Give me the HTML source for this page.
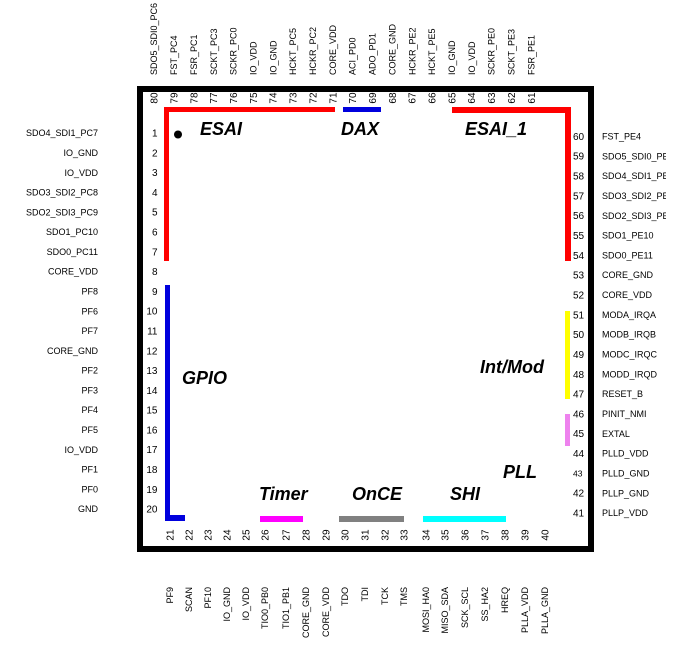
<!DOCTYPE html>
<html>
<head>
<meta charset="utf-8">
<style>
html,body{margin:0;padding:0;background:#fff;}
svg{display:block;}
text{font-family:"Liberation Sans",Arial,sans-serif;fill:#000;}
.lb{font-size:9px;}
.nm{font-size:10px;}
.bg{font-size:18px;font-weight:bold;font-style:italic;}
</style>
</head>
<body>
<svg width="695" height="651" viewBox="0 0 695 651" xmlns="http://www.w3.org/2000/svg">
<rect x="0" y="0" width="695" height="651" fill="#fff"/>
<defs><clipPath id="rc"><rect x="595" y="0" width="71" height="651"/></clipPath></defs>

<!-- chip box -->
<rect x="140" y="89" width="451" height="460" fill="none" stroke="#000" stroke-width="6"/>

<!-- colored bars -->
<rect x="164" y="107" width="5" height="154" fill="#ff0000"/>
<rect x="164" y="107" width="171" height="5" fill="#ff0000"/>
<rect x="343" y="107" width="38" height="5" fill="#0000dd"/>
<rect x="452" y="107" width="119" height="6" fill="#ff0000"/>
<rect x="565" y="107" width="6" height="154" fill="#ff0000"/>
<rect x="165" y="285" width="5" height="236" fill="#0000dd"/>
<rect x="165" y="515" width="20" height="6" fill="#0000dd"/>
<rect x="260" y="516" width="43" height="6" fill="#ff00ff"/>
<rect x="339" y="516" width="65" height="6" fill="#808080"/>
<rect x="423" y="516" width="83" height="6" fill="#00ffff"/>
<rect x="565" y="311" width="5" height="88" fill="#ffff00"/>
<rect x="565" y="414" width="5" height="32" fill="#ee82ee"/>
<circle cx="178" cy="134.5" r="4" fill="#000"/>

<!-- group labels -->
<text class="bg" x="200" y="135">ESAI</text>
<text class="bg" x="341" y="135">DAX</text>
<text class="bg" x="465" y="135">ESAI_1</text>
<text class="bg" x="182" y="384">GPIO</text>
<text class="bg" x="480" y="373">Int/Mod</text>
<text class="bg" x="503" y="478">PLL</text>
<text class="bg" x="450" y="500">SHI</text>
<text class="bg" x="259" y="500">Timer</text>
<text class="bg" x="352" y="500">OnCE</text>

<!-- left side labels (1-20) -->
<g class="lb" text-anchor="end">
<text x="98" y="136.2">SDO4_SDI1_PC7</text>
<text x="98" y="156">IO_GND</text>
<text x="98" y="175.8">IO_VDD</text>
<text x="98" y="195.6">SDO3_SDI2_PC8</text>
<text x="98" y="215.3">SDO2_SDI3_PC9</text>
<text x="98" y="235.1">SDO1_PC10</text>
<text x="98" y="254.9">SDO0_PC11</text>
<text x="98" y="274.7">CORE_VDD</text>
<text x="98" y="294.5">PF8</text>
<text x="98" y="314.3">PF6</text>
<text x="98" y="334.1">PF7</text>
<text x="98" y="353.9">CORE_GND</text>
<text x="98" y="373.6">PF2</text>
<text x="98" y="393.4">PF3</text>
<text x="98" y="413.2">PF4</text>
<text x="98" y="433">PF5</text>
<text x="98" y="452.8">IO_VDD</text>
<text x="98" y="472.6">PF1</text>
<text x="98" y="492.4">PF0</text>
<text x="98" y="512.2">GND</text>
</g>
<g class="nm" text-anchor="end">
<text x="157.5" y="136.6">1</text>
<text x="157.5" y="156.4">2</text>
<text x="157.5" y="176.2">3</text>
<text x="157.5" y="196">4</text>
<text x="157.5" y="215.7">5</text>
<text x="157.5" y="235.5">6</text>
<text x="157.5" y="255.3">7</text>
<text x="157.5" y="275.1">8</text>
<text x="157.5" y="294.9">9</text>
<text x="157.5" y="314.7">10</text>
<text x="157.5" y="334.5">11</text>
<text x="157.5" y="354.3">12</text>
<text x="157.5" y="374">13</text>
<text x="157.5" y="393.8">14</text>
<text x="157.5" y="413.6">15</text>
<text x="157.5" y="433.4">16</text>
<text x="157.5" y="453.2">17</text>
<text x="157.5" y="473">18</text>
<text x="157.5" y="492.8">19</text>
<text x="157.5" y="512.6">20</text>
</g>

<!-- right side (41-60) -->
<g class="nm">
<text x="573" y="139.9">60</text>
<text x="573" y="159.7">59</text>
<text x="573" y="179.5">58</text>
<text x="573" y="199.3">57</text>
<text x="573" y="219.2">56</text>
<text x="573" y="239">55</text>
<text x="573" y="258.8">54</text>
<text x="573" y="278.6">53</text>
<text x="573" y="298.5">52</text>
<text x="573" y="318.3">51</text>
<text x="573" y="338.1">50</text>
<text x="573" y="357.9">49</text>
<text x="573" y="377.8">48</text>
<text x="573" y="397.6">47</text>
<text x="573" y="417.4">46</text>
<text x="573" y="437.2">45</text>
<text x="573" y="457.1">44</text>
<text x="573" y="476.3" style="font-size:8.5px">43</text>
<text x="573" y="496.7">42</text>
<text x="573" y="516.5">41</text>
</g>
<g class="lb" clip-path="url(#rc)">
<text x="602" y="139.5">FST_PE4</text>
<text x="602" y="159.3">SDO5_SDI0_PE6</text>
<text x="602" y="179.1">SDO4_SDI1_PE7</text>
<text x="602" y="198.9">SDO3_SDI2_PE8</text>
<text x="602" y="218.8">SDO2_SDI3_PE9</text>
<text x="602" y="238.6">SDO1_PE10</text>
<text x="602" y="258.4">SDO0_PE11</text>
<text x="602" y="278.2">CORE_GND</text>
<text x="602" y="298.1">CORE_VDD</text>
<text x="602" y="317.9">MODA_IRQA</text>
<text x="602" y="337.7">MODB_IRQB</text>
<text x="602" y="357.5">MODC_IRQC</text>
<text x="602" y="377.4">MODD_IRQD</text>
<text x="602" y="397.2">RESET_B</text>
<text x="602" y="417">PINIT_NMI</text>
<text x="602" y="436.8">EXTAL</text>
<text x="602" y="456.7">PLLD_VDD</text>
<text x="602" y="476.5">PLLD_GND</text>
<text x="602" y="496.3">PLLP_GND</text>
<text x="602" y="516.1">PLLP_VDD</text>
</g>

<!-- top (61-80) numbers -->
<g class="nm" text-anchor="middle">
<text transform="translate(157.6,98) rotate(-90)">80</text>
<text transform="translate(177.5,98) rotate(-90)">79</text>
<text transform="translate(197.3,98) rotate(-90)">78</text>
<text transform="translate(217.2,98) rotate(-90)">77</text>
<text transform="translate(237,98) rotate(-90)">76</text>
<text transform="translate(256.9,98) rotate(-90)">75</text>
<text transform="translate(276.7,98) rotate(-90)">74</text>
<text transform="translate(296.6,98) rotate(-90)">73</text>
<text transform="translate(316.4,98) rotate(-90)">72</text>
<text transform="translate(336.3,98) rotate(-90)">71</text>
<text transform="translate(356.1,98) rotate(-90)">70</text>
<text transform="translate(376,98) rotate(-90)">69</text>
<text transform="translate(395.8,98) rotate(-90)">68</text>
<text transform="translate(415.7,98) rotate(-90)">67</text>
<text transform="translate(435.5,98) rotate(-90)">66</text>
<text transform="translate(455.4,98) rotate(-90)">65</text>
<text transform="translate(475.2,98) rotate(-90)">64</text>
<text transform="translate(495.1,98) rotate(-90)">63</text>
<text transform="translate(514.9,98) rotate(-90)">62</text>
<text transform="translate(534.8,98) rotate(-90)">61</text>
</g>
<!-- top labels -->
<g class="lb">
<text transform="translate(157.2,75) rotate(-90)">SDO5_SDI0_PC6</text>
<text transform="translate(177.1,75) rotate(-90)">FST_PC4</text>
<text transform="translate(196.9,75) rotate(-90)">FSR_PC1</text>
<text transform="translate(216.8,75) rotate(-90)">SCKT_PC3</text>
<text transform="translate(236.6,75) rotate(-90)">SCKR_PC0</text>
<text transform="translate(256.5,75) rotate(-90)">IO_VDD</text>
<text transform="translate(276.3,75) rotate(-90)">IO_GND</text>
<text transform="translate(296.2,75) rotate(-90)">HCKT_PC5</text>
<text transform="translate(316,75) rotate(-90)">HCKR_PC2</text>
<text transform="translate(335.9,75) rotate(-90)">CORE_VDD</text>
<text transform="translate(355.7,75) rotate(-90)">ACI_PD0</text>
<text transform="translate(375.6,75) rotate(-90)">ADO_PD1</text>
<text transform="translate(395.4,75) rotate(-90)">CORE_GND</text>
<text transform="translate(415.3,75) rotate(-90)">HCKR_PE2</text>
<text transform="translate(435.1,75) rotate(-90)">HCKT_PE5</text>
<text transform="translate(455,75) rotate(-90)">IO_GND</text>
<text transform="translate(474.8,75) rotate(-90)">IO_VDD</text>
<text transform="translate(494.7,75) rotate(-90)">SCKR_PE0</text>
<text transform="translate(514.5,75) rotate(-90)">SCKT_PE3</text>
<text transform="translate(534.4,75) rotate(-90)">FSR_PE1</text>
</g>

<!-- bottom (21-40) numbers -->
<g class="nm" text-anchor="middle">
<text transform="translate(173.6,535) rotate(-90)">21</text>
<text transform="translate(192.6,535) rotate(-90)">22</text>
<text transform="translate(211.6,535) rotate(-90)">23</text>
<text transform="translate(230.6,535) rotate(-90)">24</text>
<text transform="translate(249.6,535) rotate(-90)">25</text>
<text transform="translate(268.6,535) rotate(-90)">26</text>
<text transform="translate(289.6,535) rotate(-90)">27</text>
<text transform="translate(309.6,535) rotate(-90)">28</text>
<text transform="translate(329.6,535) rotate(-90)">29</text>
<text transform="translate(348.6,535) rotate(-90)">30</text>
<text transform="translate(368.6,535) rotate(-90)">31</text>
<text transform="translate(388.6,535) rotate(-90)">32</text>
<text transform="translate(407.6,535) rotate(-90)">33</text>
<text transform="translate(429.6,535) rotate(-90)">34</text>
<text transform="translate(448.6,535) rotate(-90)">35</text>
<text transform="translate(468.6,535) rotate(-90)">36</text>
<text transform="translate(488.6,535) rotate(-90)">37</text>
<text transform="translate(508.6,535) rotate(-90)">38</text>
<text transform="translate(528.6,535) rotate(-90)">39</text>
<text transform="translate(548.6,535) rotate(-90)">40</text>
</g>
<!-- bottom labels -->
<g class="lb" text-anchor="end">
<text transform="translate(173.2,587) rotate(-90)">PF9</text>
<text transform="translate(192.2,587) rotate(-90)">SCAN</text>
<text transform="translate(211.2,587) rotate(-90)">PF10</text>
<text transform="translate(230.2,587) rotate(-90)">IO_GND</text>
<text transform="translate(249.2,587) rotate(-90)">IO_VDD</text>
<text transform="translate(268.2,587) rotate(-90)">TIO0_PB0</text>
<text transform="translate(289.2,587) rotate(-90)">TIO1_PB1</text>
<text transform="translate(309.2,587) rotate(-90)">CORE_GND</text>
<text transform="translate(329.2,587) rotate(-90)">CORE_VDD</text>
<text transform="translate(348.2,587) rotate(-90)">TDO</text>
<text transform="translate(368.2,587) rotate(-90)">TDI</text>
<text transform="translate(388.2,587) rotate(-90)">TCK</text>
<text transform="translate(407.2,587) rotate(-90)">TMS</text>
<text transform="translate(429.2,587) rotate(-90)">MOSI_HA0</text>
<text transform="translate(448.2,587) rotate(-90)">MISO_SDA</text>
<text transform="translate(468.2,587) rotate(-90)">SCK_SCL</text>
<text transform="translate(488.2,587) rotate(-90)">SS_HA2</text>
<text transform="translate(508.2,587) rotate(-90)">HREQ</text>
<text transform="translate(528.2,587) rotate(-90)">PLLA_VDD</text>
<text transform="translate(548.2,587) rotate(-90)">PLLA_GND</text>
</g>
</svg>
</body>
</html>
